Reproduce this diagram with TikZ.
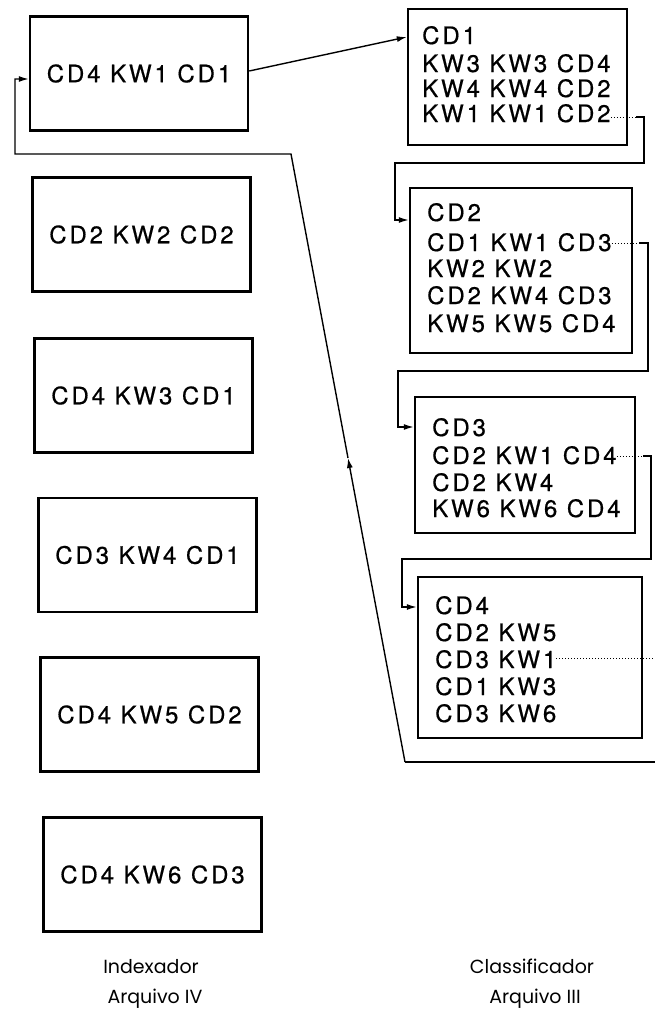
\documentclass[tikz,border=0pt]{standalone}
\usepackage{fontspec}
\setmainfont{TeX Gyre Heros}
\newfontfamily\boxfont[LetterSpace=12,FakeBold=0.6]{TeX Gyre Heros}
\newfontfamily\labfont{Poppins}
\usetikzlibrary{arrows.meta,calc}
\begin{document}
\begin{tikzpicture}[x=1pt,y=-1pt,
  lbox/.style={draw,line width=2.4pt,minimum width=218pt,minimum height=114pt,inner sep=0pt,font=\boxfont\fontsize{24}{28}\selectfont},
  rbox/.style={draw,line width=2.4pt,inner sep=0pt},
  rtxt/.style={anchor=base west,inner sep=0pt,font=\boxfont\fontsize{24}{28}\selectfont},
  conn/.style={line width=1.4pt},
  dotc/.style={line width=1pt,dotted},
  tip/.style={-{Latex[length=10pt,width=6pt]}},
  lab/.style={anchor=base,inner sep=0pt,font=\labfont\fontsize{19}{22}\selectfont}]
\useasboundingbox (0,0) rectangle (654,1009);
% left column
\node[lbox] (L1) at (139,73.5) {CD4 KW1 CD1};
\node[lbox] (L2) at (141.5,234.5) {CD2 KW2 CD2};
\node[lbox] (L3) at (143.5,395.5) {CD4 KW3 CD1};
\node[lbox] (L4) at (147.5,555) {CD3 KW4 CD1};
\node[lbox] (L5) at (149.5,714.5) {CD4 KW5 CD2};
\node[lbox] (L6) at (152.5,874.5) {CD4 KW6 CD3};
% right column boxes
\node[rbox,minimum width=219pt,minimum height=136pt] (R1) at (517.5,77) {};
\node[rbox,minimum width=222pt,minimum height=165pt] (R2) at (521,270.5) {};
\node[rbox,minimum width=220pt,minimum height=136pt] (R3) at (525,465) {};
\node[rbox,minimum width=224pt,minimum height=161pt] (R4) at (530,657.5) {};
% right column texts
\node[rtxt] (R1a) at (422,44) {CD1};
\node[rtxt] (R1b) at (422,72) {KW3 KW3 CD4};
\node[rtxt] (R1c) at (422,97) {KW4 KW4 CD2};
\node[rtxt] (R1d) at (422,122) {KW1 KW1 CD2};
\node[rtxt] (R2a) at (427,221) {CD2};
\node[rtxt] (R2b) at (427,251) {CD1 KW1 CD3};
\node[rtxt] (R2c) at (427,277) {KW2 KW2};
\node[rtxt] (R2d) at (427,304) {CD2 KW4 CD3};
\node[rtxt] (R2e) at (427,332) {KW5 KW5 CD4};
\node[rtxt] (R3a) at (432,436) {CD3};
\node[rtxt] (R3b) at (432,464) {CD2 KW1 CD4};
\node[rtxt] (R3c) at (432,491) {CD2 KW4};
\node[rtxt] (R3d) at (432,517) {KW6 KW6 CD4};
\node[rtxt] (R4a) at (435,614) {CD4};
\node[rtxt] (R4b) at (435,641) {CD2 KW5};
\node[rtxt] (R4c) at (435,668) {CD3 KW1};
\node[rtxt] (R4d) at (435,695) {CD1 KW3};
\node[rtxt] (R4e) at (435,722) {CD3 KW6};
% labels
\node[lab] (ix1) at (151,973) {Indexador};
\node[lab] (ix2) at (155,1003) {Arquivo IV};
\node[lab] (cl1) at (532,973) {Classificador};
\node[lab] (cl2) at (535,1003) {Arquivo III};
% coordinates
\coordinate (s0) at (0,71);
\coordinate (t0) at (0,37);
\coordinate (d1) at (636,117);
\coordinate (e1) at (644,117);
\coordinate (g1) at (395,163);
\coordinate (h1) at (0,220);
\coordinate (d2) at (639,243);
\coordinate (e2) at (648,243);
\coordinate (g2) at (398,371);
\coordinate (h2) at (0,427);
\coordinate (d3) at (643,456);
\coordinate (e3) at (651,456);
\coordinate (g3) at (402,559);
\coordinate (h3) at (0,607);
\coordinate (d4) at (662,658);
\coordinate (e4) at (662,762);
\coordinate (m4) at (405,762);
\coordinate (n4) at (291,154);
\coordinate (o4) at (15,154);
\coordinate (q4) at (0,79);
% connectors
\draw[conn,tip] (L1.east |- s0) -- (R1.west |- t0);
\draw[dotc] (R1d.east |- d1) -- (d1);
\draw[conn,tip] (d1) -- (e1) |- (g1) |- (R2.west |- h1);
\draw[dotc] (R2b.east |- d2) -- (d2);
\draw[conn,tip] (d2) -- (e2) |- (g2) |- (R3.west |- h2);
\draw[dotc] (R3b.east |- d3) -- (d3);
\draw[conn,tip] (d3) -- (e3) |- (g3) |- (R4.west |- h3);
\draw[dotc] (R4c.east |- d4) -- (d4);
\draw[conn] (d4) -- (e4) -- (m4);
\draw[conn,tip] (m4) -- ($(m4)!0.5!(n4)$);
\draw[conn,tip] ($(m4)!0.5!(n4)$) -- (n4) -- (o4) |- (L1.west |- q4);
\end{tikzpicture}
\end{document}
